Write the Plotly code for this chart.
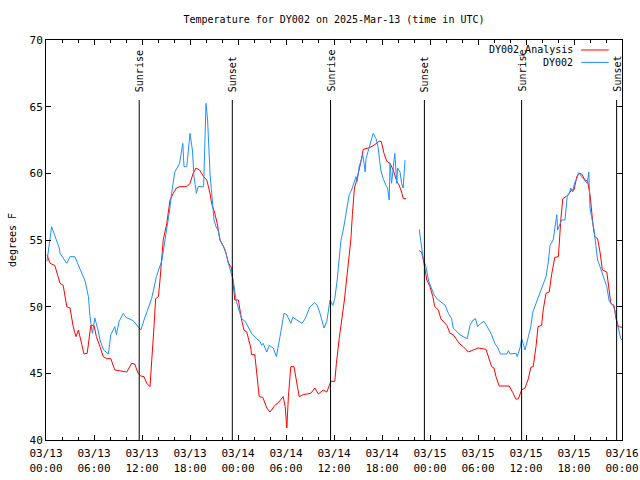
import pandas as pd
import plotly.graph_objects as go

# ---- data (hours after 2025-03-13 00:00 UTC) ----
obs_hours = [0.125, 0.625, 0.7, 1.66, 1.75, 2.6, 3.0, 3.6, 4.25, 4.9, 5.3, 5.5, 5.8, 6.1, 6.5, 6.75, 7.2, 7.8,
             8.1, 8.6, 8.8, 9.15, 9.65, 10.0, 10.9, 11.5, 11.85, 12.25, 12.8, 13.2, 13.8, 14.5, 15.0, 15.4,
             15.7, 15.9, 16.1, 16.7, 17.1, 17.25, 17.6, 18.0, 18.3, 18.5, 18.8, 19.0, 19.7, 20.0, 20.2, 20.5,
             20.8, 21.0, 21.25, 21.5, 21.75, 22.4, 22.8, 23.2, 23.4, 23.75, 24.05, 24.45, 24.9, 25.3, 25.7,
             26.3, 26.75, 26.95, 27.15, 27.6, 27.9, 28.4, 28.8, 29.25, 29.75, 30.1, 30.6, 30.85, 31.35, 32.0,
             32.4, 33.0, 33.6, 33.9, 34.25, 34.75, 35.1, 35.5, 35.85, 36.1, 36.4, 36.65, 36.85, 37.2, 37.5,
             37.9, 38.2, 38.6, 38.75, 38.9, 39.15, 39.6, 39.9, 40.0, 40.3, 40.6, 40.9, 41.25, 41.5, 41.85,
             42.15, 42.5, 42.7, 42.9, 43.0, 43.2, 43.5, 43.6, 43.85, 43.95, 44.25, 44.45, 44.65, 44.875,
             45.5,
             46.65, 46.9, 47.15, 47.5, 47.8, 48.1, 48.5, 48.85, 49.25, 49.9, 50.3, 50.7, 50.9, 51.35, 51.75,
             52.15, 52.65, 53.0, 53.4, 53.7, 53.95, 54.35, 54.75, 55.15, 55.7, 56.1, 56.5, 56.8, 57.6, 57.8,
             58.0, 58.75, 58.9, 59.25, 59.45, 59.65, 59.875, 60.3, 60.6, 60.85, 61.25, 61.65, 62.1, 62.5,
             62.8, 63.0, 63.4, 63.7, 63.85, 63.95, 64.15, 64.45, 64.875, 65.15, 65.4, 65.6, 65.85, 66.05,
             66.35, 66.6, 66.95, 67.375, 67.65, 67.85, 68.0, 68.2, 68.5, 68.75, 68.95, 69.25, 69.65, 70.1,
             70.4, 70.85, 71.1, 71.4, 71.85, 72.0]
obs_temps = [53.4, 55.75, 56.0, 54.4, 54.0, 53.25, 53.75, 53.75, 52.75, 51.9, 50.75, 49.25, 48.0, 49.15, 48.25,
             47.5, 46.75, 46.45, 47.9, 48.5, 47.9, 48.9, 49.5, 49.2, 48.95, 48.5, 48.25, 49.0, 49.9, 50.6,
             52.25, 53.5, 55.5, 57.0, 58.5, 59.5, 60.1, 60.75, 62.25, 60.5, 60.5, 63.0, 61.75, 59.75, 58.5,
             59.0, 59.0, 65.25, 64.0, 60.0, 57.75, 56.5, 56.0, 55.75, 55.0, 54.25, 53.25, 52.5, 52.0, 50.5,
             49.9, 49.1, 48.9, 48.5, 48.0, 47.6, 47.4, 47.1, 47.25, 46.6, 47.1, 46.9, 46.25, 47.75, 49.5,
             49.4, 48.75, 49.2, 49.0, 48.75, 49.1, 50.0, 50.3, 50.1, 49.5, 48.4, 48.9, 50.5, 50.1, 50.6,
             52.0, 53.9, 54.9, 55.9, 56.9, 58.4, 58.75, 59.4, 59.75, 59.4, 60.5, 61.4, 60.1, 61.1, 61.75,
             62.5, 63.0, 62.6, 62.0, 60.25, 59.6, 59.1, 58.9, 58.0, 60.75, 59.25, 61.1, 61.5, 59.25, 60.4,
             60.1, 59.25, 58.9, 61.0,
             None,
             55.8, 54.75, 53.6, 53.0, 52.0, 51.5, 50.9, 50.6, 50.4, 50.1, 49.5, 49.1, 48.4, 48.1, 47.9,
             47.75, 47.6, 48.6, 49.0, 49.1, 48.5, 48.75, 48.9, 48.5, 47.9, 47.25, 46.9, 46.45, 46.45, 46.7,
             46.45, 46.5, 46.25, 46.9, 47.6, 47.25, 46.75, 47.75, 48.5, 49.6, 50.25, 51.0, 51.6, 52.25,
             53.4, 54.6, 55.0, 56.4, 56.9, 55.75, 56.0, 56.5, 56.5, 58.25, 58.5, 58.9, 58.6, 59.25,
             59.6, 60.05, 59.75, 59.4, 59.25, 60.1, 57.4, 56.75, 55.75, 54.5, 53.5, 53.0, 52.25, 51.5,
             50.4, 50.1, 49.75, 48.75, 47.6, 47.5]

ana_hours = [0.125, 0.5, 1.1, 1.75, 2.15, 2.6, 3.0, 3.4, 3.75, 4.05, 4.5, 4.75, 5.15, 5.6, 6.0, 6.3, 6.75, 7.15,
             7.6, 8.1, 8.6, 10.1, 10.7, 11.1, 11.5, 11.85, 12.25, 12.6, 13.0, 13.25, 13.5, 13.7, 14.05, 14.25,
             14.65, 15.1, 15.5, 15.9, 16.3, 16.75, 17.6, 18.0, 18.4, 18.75, 19.2, 19.7, 20.1, 20.5, 20.7,
             21.1, 21.4, 21.75, 22.2, 22.5, 22.8, 23.2, 23.4, 23.6, 24.05, 24.45, 24.75, 25.1, 25.6, 25.7,
             26.1, 26.35, 26.65, 27.1, 27.6, 28.0, 28.6, 29.05, 29.65, 29.9, 30.1, 30.3, 30.6, 31.0, 31.4,
             31.65, 32.15, 32.8, 33.1, 33.6, 34.05, 34.65, 35.1, 35.6, 36.1, 36.3, 36.65, 37.3, 37.8, 38.1,
             38.3, 38.55, 38.85, 39.15, 39.45, 39.65, 40.3, 40.85, 41.25, 41.65, 41.9, 42.25, 42.6, 43.0,
             43.4, 43.85, 44.15, 44.45, 44.65, 45.0,
             45.8,
             46.65, 46.95, 47.25, 47.6, 48.0, 48.35, 48.6, 49.05, 49.35, 49.65, 50.1, 50.5, 50.9, 51.35,
             51.75, 52.15, 52.8, 53.4, 54.05, 55.0, 55.4, 55.7, 56.0, 56.25, 56.65, 57.9, 58.35, 58.75,
             59.05, 59.45, 59.875, 60.3, 60.6, 60.9, 61.25, 61.5, 61.95, 62.15, 62.5, 62.9, 63.2, 63.6,
             64.05, 64.15, 64.35, 64.6, 65.0, 65.4, 65.7, 66.0, 66.35, 66.6, 66.95, 67.375, 67.7, 68.0,
             68.2, 68.4, 68.6, 68.95, 69.25, 69.55, 70.1, 70.3, 70.6, 71.0, 71.25, 71.55, 72.0]
ana_temps = [53.9, 53.25, 53.1, 51.75, 51.6, 50.0, 49.9, 48.5, 47.75, 48.25, 47.1, 46.45, 46.5, 48.6, 48.6,
             47.75, 47.0, 46.25, 46.1, 46.1, 45.25, 45.1, 45.75, 45.7, 45.0, 44.8, 44.75, 44.25, 44.0, 46.0,
             48.5, 50.6, 50.75, 52.0, 55.0, 56.25, 58.0, 58.5, 58.9, 59.0, 59.0, 59.25, 60.0, 60.4, 60.25,
             59.75, 59.5, 58.5, 57.75, 57.0, 56.25, 55.0, 54.5, 54.0, 53.3, 52.9, 51.4, 50.5, 50.5, 49.0,
             48.25, 48.1, 46.9, 46.4, 46.4, 44.75, 43.25, 43.2, 42.4, 42.1, 42.6, 42.8, 43.25, 42.5, 40.9,
             43.25, 45.5, 45.5, 44.25, 43.25, 43.4, 43.5, 43.5, 43.9, 43.45, 43.75, 43.6, 44.4, 44.4, 45.75,
             47.6, 50.5, 53.6, 55.0, 56.9, 58.9, 59.5, 60.25, 61.1, 61.8, 61.9, 62.05, 62.2, 62.4, 62.4,
             61.5, 60.9, 60.75, 60.25, 59.4, 59.1, 58.6, 58.1, 58.1,
             None,
             54.2, 54.1, 53.25, 52.0, 51.5, 50.75, 50.0, 49.75, 49.1, 48.9, 48.6, 48.0, 47.9, 47.5, 47.2,
             47.0, 46.6, 46.75, 46.9, 46.8, 46.05, 45.5, 45.4, 44.75, 44.05, 44.05, 43.55, 43.05, 43.1,
             43.75, 43.9, 44.6, 45.45, 45.5, 47.0, 48.5, 48.6, 49.75, 51.0, 51.1, 52.4, 53.7, 53.75, 55.0,
             56.5, 58.1, 58.25, 58.5, 58.75, 58.75, 59.75, 60.0, 59.95, 59.5, 59.4, 58.4, 57.1, 56.0, 55.25,
             55.1, 54.1, 52.75, 52.6, 51.5, 50.25, 50.1, 49.1, 48.5, 48.45]

sun_hours = [11.65, 23.29, 35.57, 47.3, 59.45, 71.33]
sun_labels = ["Sunrise", "Sunset", "Sunrise", "Sunset", "Sunrise", "Sunset"]

series_names = ["DY002_Analysis", "DY002"]
series_colors = ["#ff0000", "#1e90ff"]

title_text = "Temperature for DY002 on 2025-Mar-13 (time in UTC)"
y_title = "degrees F"
y_ticks = [40, 45, 50, 55, 60, 65, 70]

base = pd.Timestamp("2025-03-13 00:00")
def to_time(hours):
    return [base + pd.Timedelta(hours=h) for h in hours]

tick_hours = list(range(0, 73, 6))
tick_vals = to_time(tick_hours)
tick_text = [t.strftime("%m/%d<br>%H:%M") for t in tick_vals]

FONT = "DejaVu Sans Mono"

fig = go.Figure()
fig.add_trace(go.Scatter(x=to_time(ana_hours), y=ana_temps, mode="lines",
                         line=dict(color=series_colors[0], width=1), name=series_names[0],
                         showlegend=False))
fig.add_trace(go.Scatter(x=to_time(obs_hours), y=obs_temps, mode="lines",
                         line=dict(color=series_colors[1], width=1), name=series_names[1],
                         showlegend=False))

for h, lab in zip(sun_hours, sun_labels):
    t = base + pd.Timedelta(hours=h)
    fig.add_shape(type="line", xref="x", yref="paper", x0=t, x1=t, y0=0, y1=0.85,
                  line=dict(color="black", width=1))
    fig.add_annotation(x=t, y=0.865, xref="x", yref="paper", text=lab, textangle=-90,
                       showarrow=False, xanchor="center", yanchor="bottom",
                       font=dict(family=FONT, size=10, color="black"))

# custom legend (text right-aligned, sample on the right, gnuplot style)
legend_y = [0.975, 0.944]
for name, color, ly in zip(series_names, series_colors, legend_y):
    fig.add_annotation(x=0.919, y=ly, xref="paper", yref="paper", text=name, showarrow=False,
                       xanchor="right", yanchor="middle", font=dict(family=FONT, size=10, color="black"))
    fig.add_shape(type="line", xref="paper", yref="paper", x0=0.929, x1=0.977, y0=ly, y1=ly,
                  line=dict(color=color, width=1))

fig.update_layout(
    width=640, height=480,
    margin=dict(l=46, r=18, t=40, b=40, autoexpand=False),
    paper_bgcolor="white", plot_bgcolor="white",
    font=dict(family=FONT, size=10, color="black"),
    title=dict(text=title_text, x=0.5, xref="paper", y=1 - 19 / 480, yref="container",
               xanchor="center", yanchor="middle", font=dict(family=FONT, size=10, color="black")),
    showlegend=False,
)
fig.update_xaxes(
    type="date", range=[tick_vals[0], tick_vals[-1]], automargin=False,
    tickmode="array", tickvals=tick_vals, ticktext=tick_text,
    ticks="inside", ticklen=5, tickcolor="black", tickwidth=1,
    minor=dict(dtick=2 * 3600 * 1000, ticks="inside", ticklen=3, tickcolor="black", showgrid=False),
    showline=True, linecolor="black", linewidth=1, mirror="ticks",
    showgrid=False, zeroline=False, ticklabelstandoff=3, ticklabeloverflow="allow",
    tickfont=dict(family=FONT, size=11, color="black"),
)
fig.update_yaxes(
    range=[40, 70], tickmode="array", tickvals=y_ticks, ticktext=[str(v) for v in y_ticks],
    automargin=False,
    ticks="inside", ticklen=5, tickcolor="black", tickwidth=1,
    showline=True, linecolor="black", linewidth=1, mirror="ticks",
    showgrid=False, zeroline=False,
    tickfont=dict(family=FONT, size=11, color="black"),
    title=dict(text=y_title, standoff=11, font=dict(family=FONT, size=10, color="black")),
)

fig.write_html(
    "out.html",
    config={"displayModeBar": False},
    post_script=("document.body.style.margin='0';"
                 "document.body.style.overflow='hidden';"
                 "document.documentElement.style.overflow='hidden';"),
)
